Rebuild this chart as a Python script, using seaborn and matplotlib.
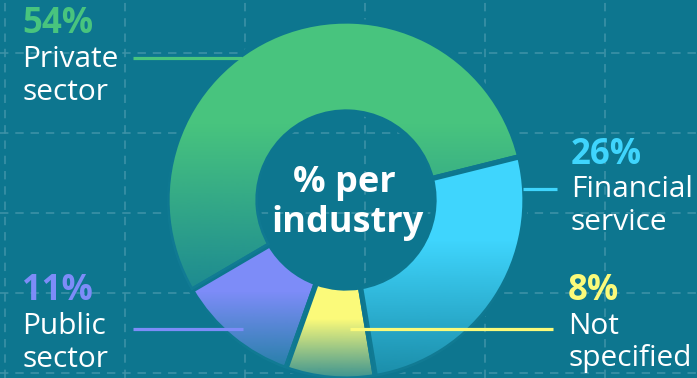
import numpy as np
import matplotlib
matplotlib.use("Agg")
import matplotlib.pyplot as plt
from matplotlib.patches import Wedge
import seaborn as sns

# ---- data ----
categories = ["Private sector", "Public sector", "Not specified", "Financial service"]
label_lines = [["Private", "sector"], ["Public", "sector"], ["Not", "specified"], ["Financial", "service"]]
values = [54, 11, 8, 26]
pct_labels = ["54%", "11%", "8%", "26%"]
colors = ["#48c47e", "#7d8cf8", "#fbfa7a", "#3fd5fd"]
center_title = ["% per", "industry"]

BG = "#0d768f"
FADE = "#137d96"
GRID = "#3f93a8"
W, H = 697, 378

sns.set_theme(style="white", rc={"axes.facecolor": BG, "figure.facecolor": BG})
plt.rcParams["font.family"] = ["Open Sans", "DejaVu Sans"]

fig = plt.figure(figsize=(W / 100, H / 100), dpi=100)
ax = fig.add_axes([0, 0, 1, 1])
ax.set_facecolor(BG)

def Y(p):
    return H - p

# grid
for gx in [5, 125, 245, 365, 485, 605]:
    ax.plot([gx, gx], [0, H], color=GRID, lw=1.1, ls=(0, (5.5, 4.5)), zorder=0)
for gy in [53, 133, 213, 293, 373]:
    ax.plot([0, W], [Y(gy), Y(gy)], color=GRID, lw=1.1, ls=(0, (5.5, 4.5)), zorder=0)

cx, cy = 346, Y(200)
R, width = 179, 91
wedges, _ = ax.pie(values, colors=colors, startangle=14, counterclock=True,
                   center=(cx, cy), radius=R,
                   wedgeprops=dict(width=width, edgecolor=BG, linewidth=3.8),
                   frame=True)

ax.set_xlim(0, W)
ax.set_ylim(0, H)
ax.set_aspect("auto")
ax.axis("off")

# per-wedge fade toward the bottom of each wedge
rgb = np.array(matplotlib.colors.to_rgb(FADE))
n = 400
ydata = np.linspace(H, 0, n)  # image row 0 = top
for w in wedges:
    w.set_zorder(2)
    t = np.deg2rad(np.linspace(w.theta1, w.theta2, 200))
    ys = np.concatenate([cy + R * np.sin(t), cy + (R - width) * np.sin(t)])
    top, bot = min(ys.max(), H), max(ys.min(), 0)
    h = top - bot
    start = top - 0.38 * h
    alpha = np.clip((start - ydata) / (start - bot), 0, 1) * 0.82
    img = np.zeros((n, 1, 4))
    img[..., :3] = rgb
    img[..., 3] = alpha[:, None]
    im = ax.imshow(img, extent=(0, W, 0, H), origin="upper", aspect="auto", zorder=3,
                   interpolation="bilinear")
    im.set_clip_path(w)
ax.set_xlim(0, W)
ax.set_ylim(0, H)

# center text
ax.text(cx - 2, Y(192), center_title[0], ha="center", va="baseline", color="white",
        fontsize=26, fontweight="bold", zorder=5)
ax.text(cx + 1, Y(232), center_title[1], ha="center", va="baseline", color="white",
        fontsize=26, fontweight="bold", zorder=5)

# labels: (x, pct baseline, line1 baseline, line2 baseline)
label_pos = {
    "Private sector": (22, 33, 67, 100),
    "Public sector": (22, 300, 334, 367),
    "Not specified": (568, 300, 334, 366),
    "Financial service": (571, 164, 197, 230),
}
leaders = {
    "Private sector": (133, 242, 58),
    "Public sector": (133, 243, 329),
    "Not specified": (350, 553, 329),
    "Financial service": (523, 557, 189),
}
for cat, lines, pct, col in zip(categories, label_lines, pct_labels, colors):
    x, b0, b1, b2 = label_pos[cat]
    ax.text(x, Y(b0), pct, color=col, fontsize=25, fontweight="bold", va="baseline", ha="left", zorder=5)
    ax.text(x, Y(b1), lines[0], color="white", fontsize=21.5, fontweight="medium",
            va="baseline", ha="left", zorder=5)
    ax.text(x, Y(b2), lines[1], color="white", fontsize=21.5, fontweight="medium",
            va="baseline", ha="left", zorder=5)
    x0, x1, ly = leaders[cat]
    ax.plot([x0, x1], [Y(ly), Y(ly)], color=col, lw=2.3, zorder=4, solid_capstyle="butt")

fig.savefig("out.png", dpi=100, facecolor=BG)
